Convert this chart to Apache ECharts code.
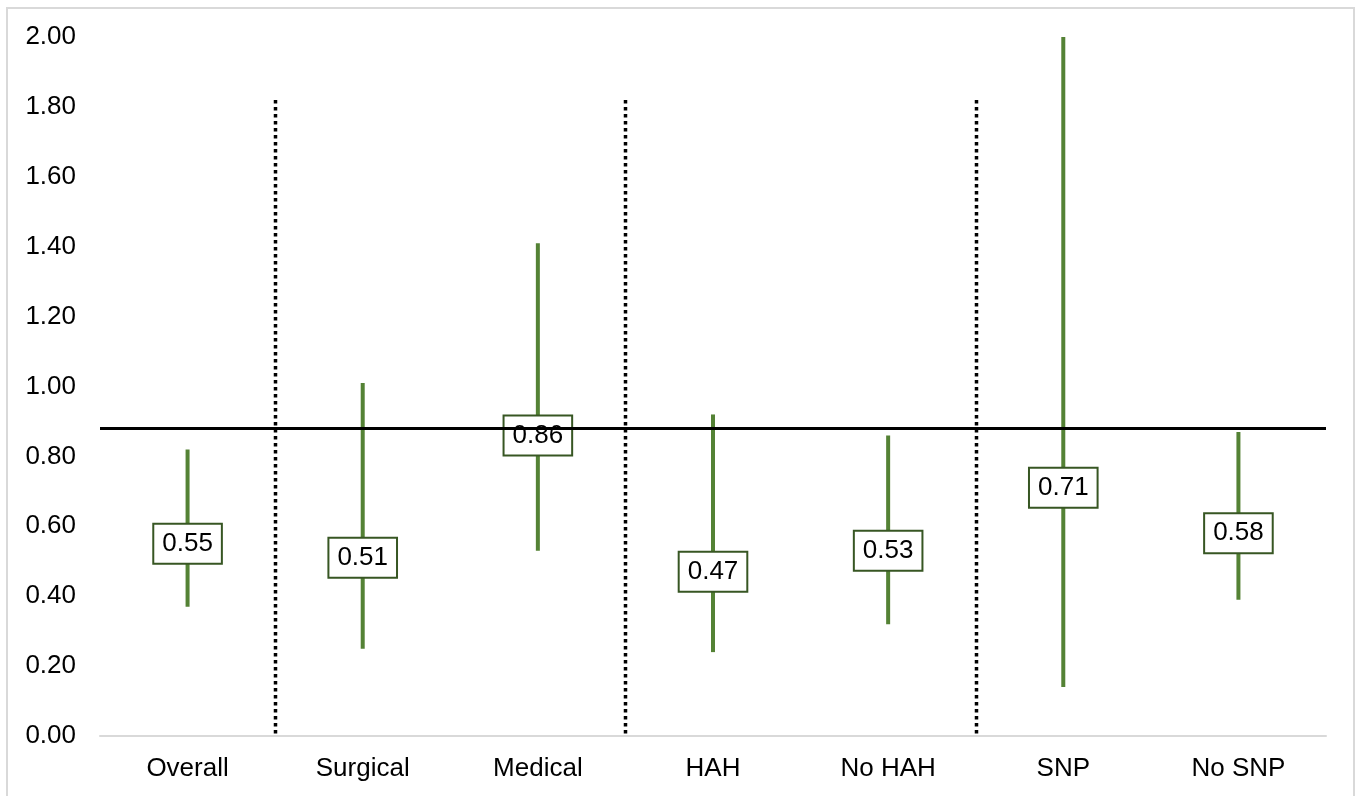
<!DOCTYPE html>
<html>
<head>
<meta charset="utf-8">
<script src="https://cdn.jsdelivr.net/npm/echarts@6/dist/echarts.min.js"></script>
<style>
html,body{margin:0;padding:0;background:#fff;}
#chart{width:1362px;height:796px;}
</style>
</head>
<body>
<div id="chart"></div>
<script>
const categories = ['Overall', 'Surgical', 'Medical', 'HAH', 'No HAH', 'SNP', 'No SNP'];
const estimates = [0.55, 0.51, 0.86, 0.47, 0.53, 0.71, 0.58];
const lowerCI = [0.37, 0.25, 0.53, 0.24, 0.32, 0.14, 0.39];
const upperCI = [0.82, 1.01, 1.41, 0.92, 0.86, 2.00, 0.87];
const referenceValue = 0.88;
const dividerAfter = [0, 2, 4];
const dividerTop = 1.82;
const yTicks = {min: 0, max: 2, interval: 0.2};

const FONT = 'Liberation Sans, Arial, sans-serif';
const chart = echarts.init(document.getElementById('chart'));

const option = {
  backgroundColor: '#fff',
  animation: false,
  graphic: [{
    type: 'rect',
    shape: {x: 7, y: 8, width: 1347, height: 800},
    style: {fill: 'none', stroke: '#d9d9d9', lineWidth: 2},
    silent: true
  }],
  grid: {left: 100, right: 36, top: 37, bottom: 60},
  xAxis: {
    type: 'category',
    data: categories,
    axisLine: {lineStyle: {color: '#d9d9d9', width: 2}},
    axisTick: {show: false},
    axisLabel: {fontSize: 26, color: '#000', fontFamily: FONT, margin: 20},
    splitLine: {show: false}
  },
  yAxis: {
    type: 'value',
    min: yTicks.min, max: yTicks.max, interval: yTicks.interval,
    axisLine: {show: false},
    axisTick: {show: false},
    splitLine: {show: false},
    axisLabel: {fontSize: 26, color: '#000', fontFamily: FONT, margin: 24,
      formatter: v => v.toFixed(2)}
  },
  series: [
    {
      type: 'custom',
      z: 2,
      data: categories.map((c, i) => [i, lowerCI[i], upperCI[i]]),
      renderItem: (params, api) => {
        const lo = api.coord([api.value(0), api.value(1)]);
        const hi = api.coord([api.value(0), api.value(2)]);
        return {
          type: 'line',
          shape: {x1: lo[0], y1: lo[1], x2: hi[0], y2: hi[1]},
          style: {stroke: '#548235', lineWidth: 4}
        };
      }
    },
    {
      type: 'custom',
      z: 3,
      data: dividerAfter.map(i => [i, dividerTop]),
      renderItem: (params, api) => {
        const half = api.size([1, 0])[0] / 2;
        const top = api.coord([api.value(0), api.value(1)]);
        const bot = api.coord([api.value(0), 0]);
        const x = Math.round(top[0] + half) + 0.5;
        return {
          type: 'line',
          shape: {x1: x, y1: top[1], x2: x, y2: bot[1]},
          style: {stroke: '#000', lineWidth: 3.5, lineDash: [3.5, 3.5]}
        };
      }
    },
    {
      type: 'scatter',
      z: 4,
      symbolSize: 1,
      itemStyle: {color: 'rgba(0,0,0,0)', opacity: 1},
      emphasis: {disabled: true},
      data: estimates,
      label: {
        show: true,
        position: 'inside',
        formatter: p => p.value.toFixed(2),
        fontSize: 26,
        lineHeight: 27,
        fontFamily: FONT,
        color: '#000',
        opacity: 1,
        backgroundColor: '#fff',
        borderColor: '#375623',
        borderWidth: 2,
        padding: [6, 8, 5, 8]
      }
    },
    {
      type: 'line',
      z: 10,
      data: [],
      markLine: {
        silent: true,
        symbol: 'none',
        label: {show: false},
        lineStyle: {color: '#000', width: 3, type: 'solid'},
        data: [{yAxis: referenceValue}]
      }
    }
  ]
};
chart.setOption(option);
</script>
</body>
</html>
